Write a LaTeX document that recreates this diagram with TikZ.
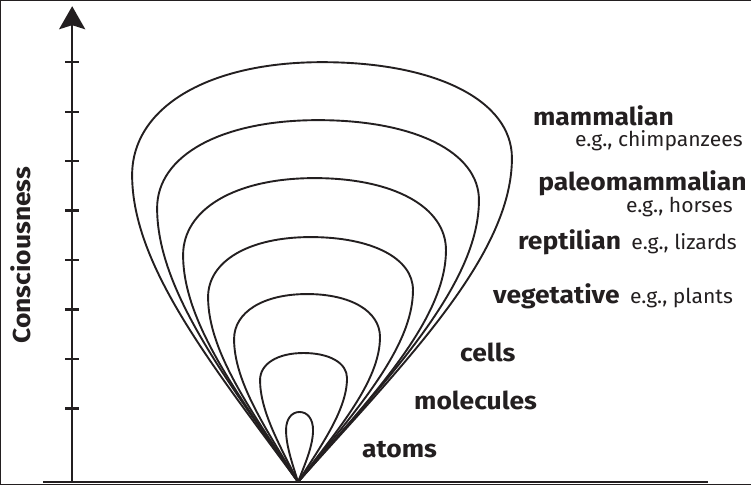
\documentclass[tikz,border=0pt]{standalone}
\usepackage{fontspec}
\setmainfont{Fira Sans}
\newfontfamily\levelfont[FakeStretch=1.08]{Fira Sans}
\newfontfamily\examplefont[FakeStretch=1.03]{Fira Sans}
\usetikzlibrary{arrows.meta,positioning}
\definecolor{ink}{HTML}{231F20}
% one nested level: centre x, top y, left x, left y, right x, right y
\newcommand{\shell}[6]{%
  \draw[shellline] (vtx)
    .. controls ({298+0.5*(#3-298)},{482+0.37*(#4-482)}) and (#3,{#4+0.3*(482-#4)}) .. (#3,#4)
    .. controls (#3,{#4-0.6*(#4-#2)}) and ({#1-0.6*(#1-#3)},#2) .. (#1,#2)
    .. controls ({#1+0.6*(#5-#1)},#2) and (#5,{#6-0.6*(#6-#2)}) .. (#5,#6)
    .. controls (#5,{#6+0.3*(482-#6)}) and ({298+0.5*(#5-298)},{482+0.37*(#6-482)}) .. (vtx);}

\begin{document}
\begin{tikzpicture}[
  x=1pt,
  y=-1pt,
  >=Stealth,
  every path/.style={draw=ink},
  axisline/.style={line width=2.6pt},
  axistick/.style={line width=2.2pt},
  shellline/.style={line width=1.9pt},
  level/.style={
    text=ink,
    inner sep=0pt,
    font=\levelfont\bfseries\fontsize{24.5}{27}\selectfont
  },
  example/.style={
    text=ink,
    inner sep=0pt,
    font=\examplefont\fontsize{20.5}{23}\selectfont
  },
  axislabel/.style={level, rotate=90}
]
  \useasboundingbox (0,0) rectangle (751,484);

  \coordinate (vtx) at (298,482);
  \coordinate (yaxbase) at (72,482);
  \coordinate (yaxtop) at (72,6);
  \coordinate (xaxleft) at (43,482);
  \coordinate (xaxright) at (708,482);

  % axes
  \draw[axisline] (xaxleft) -- (xaxright);
  \draw[axisline, -{Stealth[length=23pt, width=26pt, inset=4pt]}] (yaxbase) -- (yaxtop);
  \foreach \ty in {62,111.5,161,210.5,260,309.5,359,408.5}
    \draw[axistick] (65,\ty) -- (79,\ty);

  \node[axislabel] (conscious) at (21,255) {Consciousness};

  % nested levels, atoms first
  \shell{299.5}{412}{286}{430}{313}{430}
  \shell{303.5}{353}{260}{380}{347}{378}
  \shell{307}{294}{234}{339}{380}{337}
  \shell{310.5}{237}{208}{297}{413}{290}
  \shell{314.5}{178}{183}{255}{446}{250}
  \shell{318}{120}{157}{208}{479}{200}
  \shell{322}{62}{132}{175}{512}{158}

  % labels
  \node[level, anchor=base west] (mammal) at (533,125) {mammalian};
  \node[example, anchor=base east] (mammalex) at (743,146) {e.g., chimpanzees};
  \node[level, anchor=base east] (paleo) at (747,190) {paleomammalian};
  \node[example, anchor=base east] (paleoex) at (733,212) {e.g., horses};
  \node[level, anchor=base west] (rept) at (518,249) {reptilian};
  \node[example, base right=10pt of rept] (reptex) {e.g., lizards};
  \node[level, anchor=base west] (veget) at (493,303) {vegetative};
  \node[example, base right=10pt of veget] (vegetex) {e.g., plants};
  \node[level, anchor=base west] (cells) at (460,361) {cells};
  \node[level, anchor=base west] (molec) at (414,410) {molecules};
  \node[level, anchor=base west] (atoms) at (362,458) {atoms};
\end{tikzpicture}
\end{document}
